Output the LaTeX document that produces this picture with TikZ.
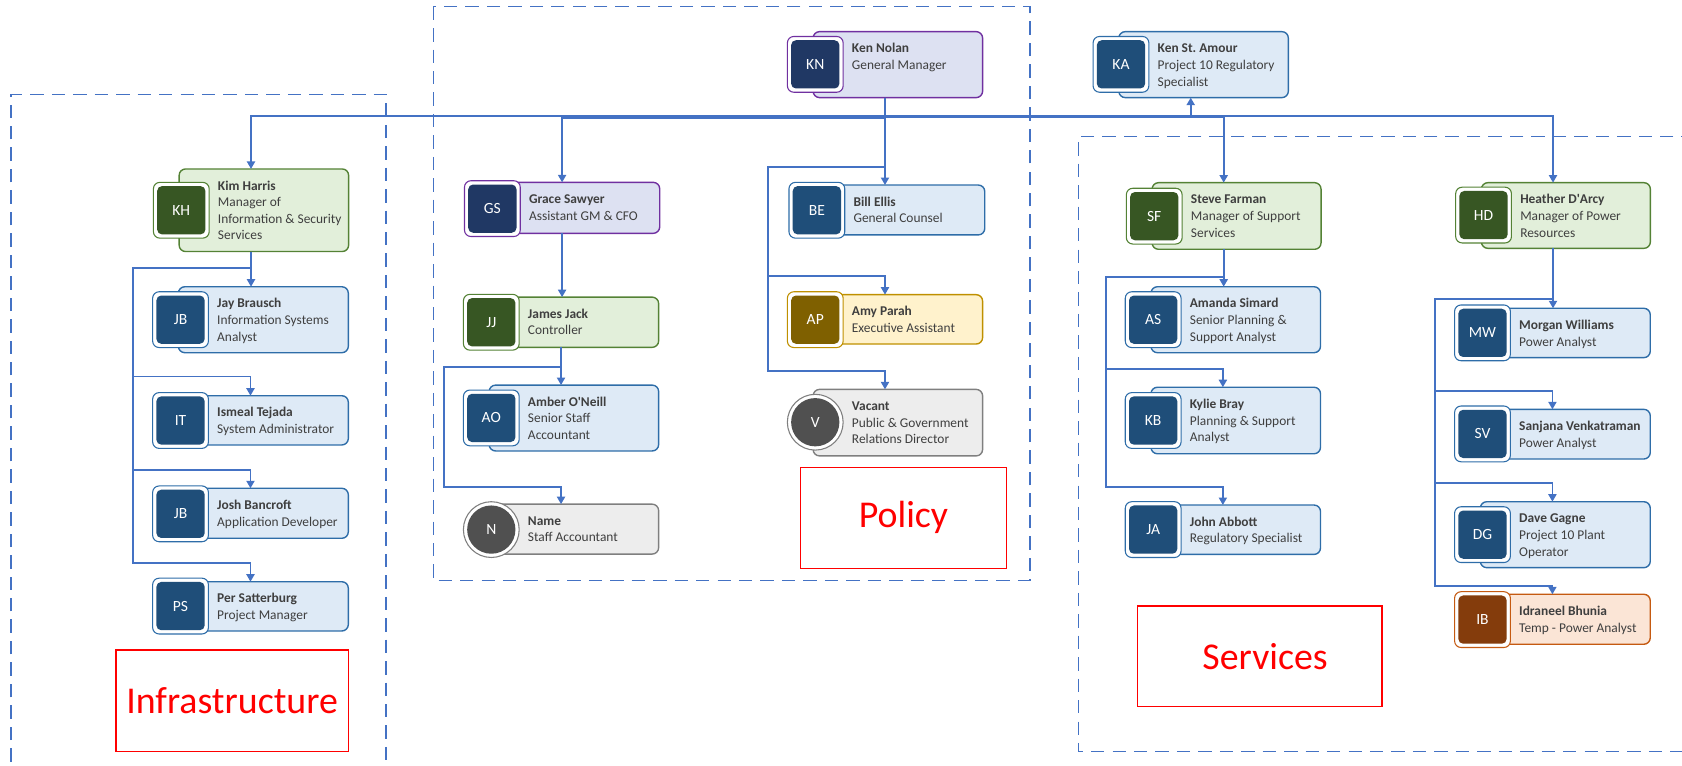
\documentclass[tikz,border=0pt]{standalone}
\usepackage{fontspec}
\setmainfont{Carlito}
\usetikzlibrary{arrows.meta}
\definecolor{connC}{HTML}{4472C4}
\definecolor{puL}{HTML}{7030A0}\definecolor{puF}{HTML}{DDE1F2}\definecolor{puD}{HTML}{203864}
\definecolor{blL}{HTML}{2E6DA8}\definecolor{blF}{HTML}{DEEAF6}\definecolor{blD}{HTML}{1F4E79}
\definecolor{grL}{HTML}{548235}\definecolor{grF}{HTML}{E2EFDA}\definecolor{grD}{HTML}{375623}
\definecolor{goL}{HTML}{BF9000}\definecolor{goF}{HTML}{FFF2CC}\definecolor{goD}{HTML}{7F6000}
\definecolor{gyL}{HTML}{7F7F7F}\definecolor{gyF}{HTML}{EDEDED}\definecolor{gyD}{HTML}{505050}
\definecolor{brL}{HTML}{C55A11}\definecolor{brF}{HTML}{FBE5D6}\definecolor{brD}{HTML}{843C0C}
\definecolor{txtC}{HTML}{3F3F3F}
\definecolor{redC}{HTML}{FF0000}
\tikzset{
 cardarea/.style={rectangle, inner sep=0pt, outer sep=0pt},
 cardbox/.style={rectangle, rounded corners=6pt, draw=#1L, fill=#1F, line width=1.3pt, inner sep=0pt, outer sep=0pt},
 avout/.style={rectangle, rounded corners=6pt, draw=#1L, fill=white, line width=1pt, minimum size=52pt, inner sep=0pt},
 avin/.style={rectangle, rounded corners=4.5pt, fill=#1D, minimum size=45pt, inner sep=0pt, text=white, font=\fontsize{14.5}{16}\selectfont},
 avoutc/.style={circle, draw=#1L, fill=white, line width=1pt, minimum size=52pt, inner sep=0pt},
 avinc/.style={circle, fill=#1D, minimum size=45pt, inner sep=0pt, text=white, font=\fontsize{14.5}{16}\selectfont},
 cardtext/.style={align=left, inner sep=0pt, text=txtC, font=\fontsize{12.5}{15.5}\selectfont, anchor=north west},
 conn/.style={draw=connC, line width=1.7pt, -{Triangle[length=7pt,width=7.5pt]}},
 grp/.style={draw=connC, line width=1.4pt, dash pattern=on 12.5pt off 7.5pt},
 redlabel/.style={rectangle, draw=redC, line width=1.3pt, text=redC, inner sep=0pt, font=\fontsize{35.3}{40}\selectfont},
}
\newcommand{\orgcard}[9]{%
 \node[cardarea, minimum width={#7-(#3)}, minimum height={#6-(#5)}] (#1) at ({(#3+#7)/2},{(#5+#6)/2}) {};
 \node[cardbox=#2, minimum width={#7-(#3)-24}, minimum height={#6-(#5)}] (#1-box) at ({(#3+24+#7)/2},{(#5+#6)/2}) {};
 \node[avout=#2] (#1-av) at ({#3+26},{#4+26}) {};
 \node[avin=#2] (#1-in) at (#1-av.center) {#8};
 \node[cardtext] (#1-txt) at ({#3+60},{#5+8.5}) {\rule{0pt}{11pt}#9};
}
\newcommand{\orgcardc}[9]{%
 \node[cardarea, minimum width={#7-(#3)}, minimum height={#6-(#5)}] (#1) at ({(#3+#7)/2},{(#5+#6)/2}) {};
 \node[cardbox=#2, minimum width={#7-(#3)-24}, minimum height={#6-(#5)}] (#1-box) at ({(#3+24+#7)/2},{(#5+#6)/2}) {};
 \node[avoutc=#2] (#1-av) at ({#3+26},{#4+26}) {};
 \node[avinc=#2] (#1-in) at (#1-av.center) {#8};
 \node[cardtext] (#1-txt) at ({#3+60},{#5+8.5}) {\rule{0pt}{11pt}#9};
}
\begin{document}
\begin{tikzpicture}[x=1pt,y=-1pt]
\useasboundingbox (0,0) rectangle (1568,714);
% group frames
\draw[grp] (10.3,730) -- (10.3,88) -- (360,88) -- (360,730);
\draw[grp] (404,6.2) rectangle (960,541.3);
\draw[grp] (1580,127.4) -- (1005.2,127.4) -- (1005.2,700.7) -- (1580,700.7);
% red labels
\node[redlabel, minimum width=216.7pt, minimum height=94.7pt] (infra) at (216.35,653.35) {Infrastructure};
\node[redlabel, minimum width=191.5pt, minimum height=94.1pt] (policy) at (842.25,482.75) {Policy};
\node[redlabel, minimum width=228.1pt, minimum height=93.8pt] (services) at (1174.35,611.9) {\hspace*{10pt}Services};
% cards
\orgcard{KN}{pu}{734}{34}{29.5}{91}{916}{KN}{\textbf{Ken Nolan}\\General Manager}
\orgcard{KA}{bl}{1019}{34}{29.5}{91}{1201}{KA}{\textbf{Ken St.\ Amour}\\Project 10 Regulatory\\Specialist}
\orgcard{KH}{gr}{143}{170}{157.5}{234.5}{325}{KH}{\textbf{Kim Harris}\\Manager of\\Information \& Security\\Services}
\orgcard{GS}{pu}{433}{168.5}{170}{217.5}{615}{GS}{\textbf{Grace Sawyer}\\Assistant GM \& CFO}
\orgcard{BE}{bl}{735.5}{170}{172.5}{219}{918}{BE}{\textbf{Bill Ellis}\\General Counsel}
\orgcard{SF}{gr}{1050}{175.5}{170.3}{232.4}{1231.5}{SF}{\textbf{Steve Farman}\\Manager of Support\\Services}
\orgcard{HD}{gr}{1357}{174.5}{170.3}{231.5}{1538.5}{HD}{\textbf{Heather D\textquotesingle Arcy}\\Manager of Power\\Resources}
\orgcard{JBa}{bl}{142.3}{272}{267.3}{328.8}{324.7}{JB}{\textbf{Jay Brausch}\\Information Systems\\Analyst}
\orgcard{IT}{bl}{142.3}{366}{368.9}{414.8}{324.7}{IT}{\textbf{Ismeal Tejada}\\System Administrator}
\orgcard{JBb}{bl}{142.3}{453}{455.2}{501.8}{324.7}{JB}{\textbf{Josh Bancroft}\\Application Developer}
\orgcard{PS}{bl}{142.3}{539}{542.3}{588.2}{324.7}{PS}{\textbf{Per Satterburg}\\Project Manager}
\orgcard{JJ}{gr}{432}{274.4}{277}{323.8}{614}{JJ}{\textbf{James Jack}\\Controller}
\orgcard{AO}{bl}{432}{363.6}{359}{420.4}{614}{AO}{\textbf{Amber O\textquotesingle Neill}\\Senior Staff\\Accountant}
\orgcardc{N}{gy}{432}{467.7}{470}{516.5}{614}{N}{\textbf{Name}\\Staff Accountant}
\orgcard{AP}{go}{734}{272}{274.7}{320.7}{916}{AP}{\textbf{Amy Parah}\\Executive Assistant}
\orgcardc{V}{gy}{734}{367.6}{363}{425}{916}{V}{\textbf{Vacant}\\Public \& Government\\Relations Director}
\orgcard{AS}{bl}{1049}{272}{267.3}{328.8}{1231}{AS}{\textbf{Amanda Simard}\\Senior Planning \&\\Support Analyst}
\orgcard{KB}{bl}{1049}{366}{361}{423}{1231}{KB}{\textbf{Kylie Bray}\\Planning \& Support\\Analyst}
\orgcard{JA}{bl}{1049}{467.7}{470.8}{516.8}{1231}{JA}{\textbf{John Abbott}\\Regulatory Specialist}
\orgcard{MW}{bl}{1356}{284.3}{287.4}{333.4}{1538.4}{MW}{\textbf{Morgan Williams}\\Power Analyst}
\orgcard{SV}{bl}{1356}{378.5}{381.6}{427.9}{1538.4}{SV}{\textbf{Sanjana Venkatraman}\\Power Analyst}
\orgcard{DG}{bl}{1356}{472.4}{467.7}{529.2}{1538.4}{DG}{\textbf{Dave Gagne}\\Project 10 Plant\\Operator}
\orgcard{IB}{br}{1356}{551.6}{554}{600.6}{1538.4}{IB}{\textbf{Idraneel Bhunia}\\Temp - Power Analyst}
% routing coordinates
\coordinate (busA) at (0,108.1);
\coordinate (busB) at (0,110.3);
\coordinate (busC) at (0,108.6);
\coordinate (busD) at (0,109.2);
\coordinate (polJ) at (716.3,156);
\coordinate (apRow) at (0,257.3);
\coordinate (vRow) at (0,345.9);
\coordinate (khJ) at (123.7,250);
\coordinate (itRow) at (0,351);
\coordinate (jbRow) at (0,438);
\coordinate (psRow) at (0,525);
\coordinate (jjJ) at (413.7,341.8);
\coordinate (nRow) at (0,453.7);
\coordinate (sfJ) at (1030.7,258);
\coordinate (kbRow) at (0,344.3);
\coordinate (jaRow) at (0,453.7);
\coordinate (hdJ) at (1337.6,279);
\coordinate (svRow) at (0,364.2);
\coordinate (dgRow) at (0,450.6);
\coordinate (ibRow) at (0,546);
% connectors from KN
\draw[conn] (KN.south) |- (KH.north |- busA) -- (KH.north);
\draw[conn] (KN.south) |- (GS.north |- busB) -- (GS.north);
\draw[conn] (KN.south) -- (KN.south |- BE.north);
\draw[conn] (KN.south) |- (polJ) |- (AP.north |- apRow) -- (AP.north);
\draw[conn] (KN.south) |- (polJ) |- (V.north |- vRow) -- (V.north);
\draw[conn] (KN.south) |- (KA.south |- busC) -- (KA.south);
\draw[conn] (KN.south) |- (SF.north |- busD) -- (SF.north);
\draw[conn] (KN.south) |- (HD.north |- busA) -- (HD.north);
% Infrastructure
\draw[conn] (KH.south) -- (KH.south |- JBa.north);
\draw[conn] (KH.south) |- (khJ) |- (IT.north |- itRow) -- (IT.north);
\draw[conn] (KH.south) |- (khJ) |- (JBb.north |- jbRow) -- (JBb.north);
\draw[conn] (KH.south) |- (khJ) |- (PS.north |- psRow) -- (PS.north);
% Finance
\draw[conn] (GS.south) -- (GS.south |- JJ.north);
\draw[conn] (JJ.south) -- (JJ.south |- AO.north);
\draw[conn] (JJ.south) |- (jjJ) |- (N.north |- nRow) -- (N.north);
% Support services
\draw[conn] (SF.south) -- (SF.south |- AS.north);
\draw[conn] (SF.south) |- (sfJ) |- (KB.north |- kbRow) -- (KB.north);
\draw[conn] (SF.south) |- (sfJ) |- (JA.north |- jaRow) -- (JA.north);
% Power resources
\draw[conn] (HD.south) -- (HD.south |- MW.north);
\draw[conn] (HD.south) |- (hdJ) |- (SV.north |- svRow) -- (SV.north);
\draw[conn] (HD.south) |- (hdJ) |- (DG.north |- dgRow) -- (DG.north);
\draw[conn] (HD.south) |- (hdJ) |- (IB.north |- ibRow) -- (IB.north);
\end{tikzpicture}
\end{document}
